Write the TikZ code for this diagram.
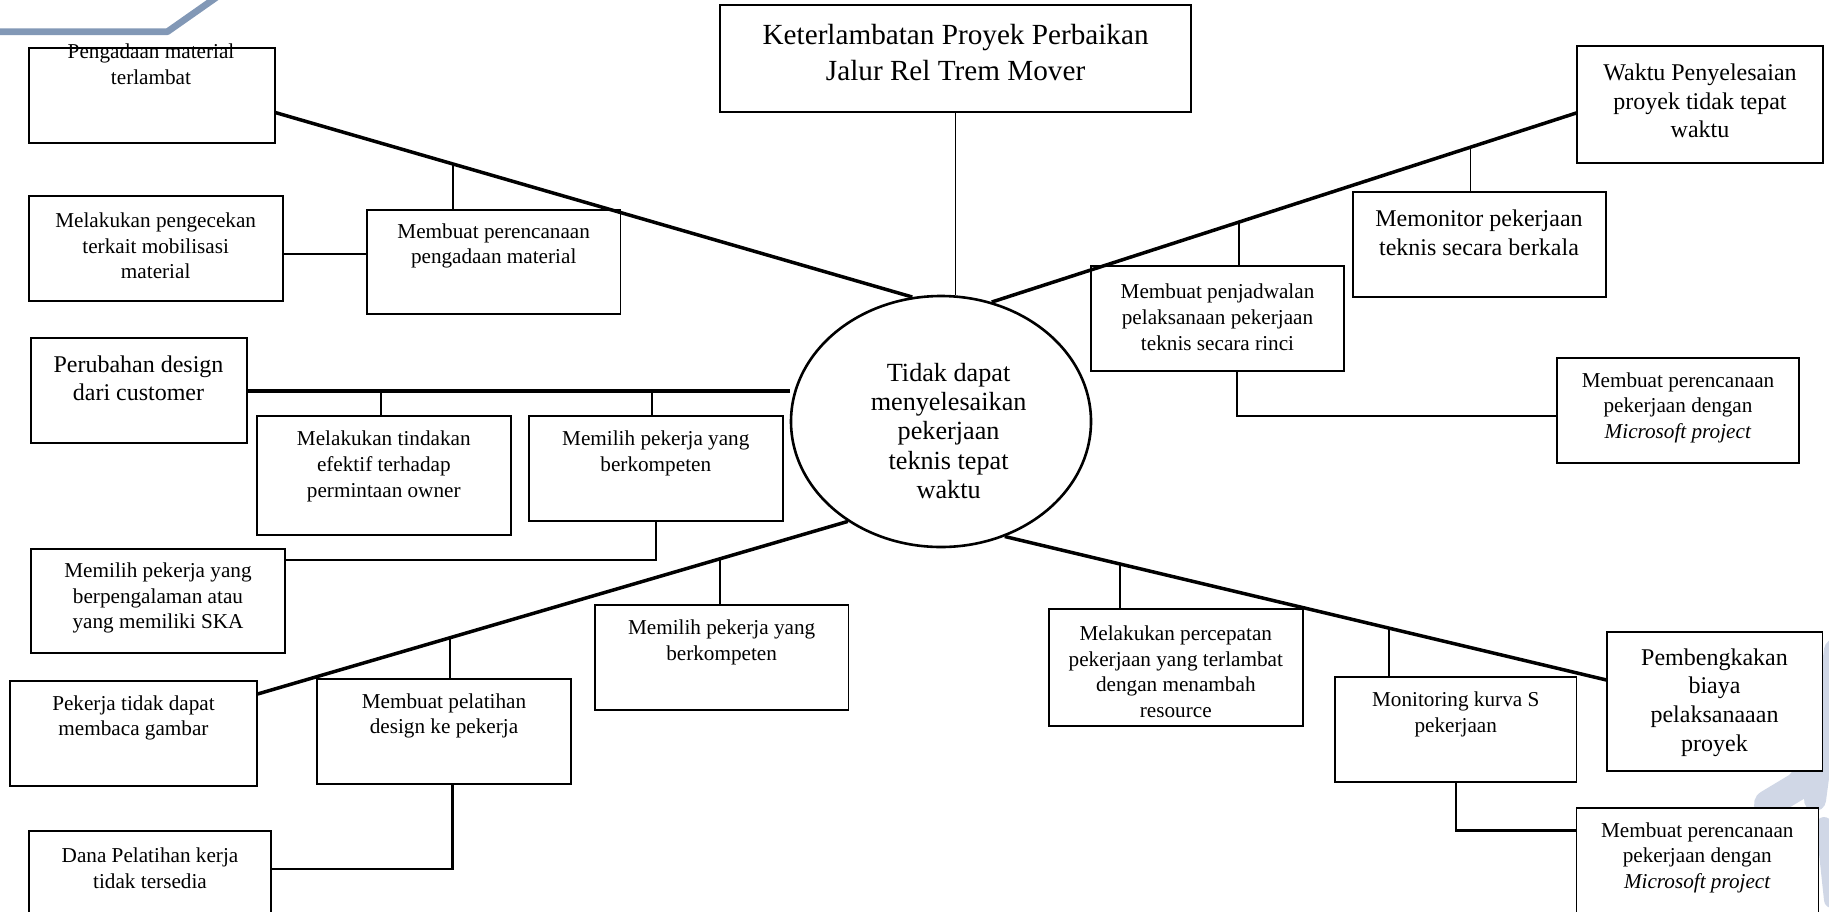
\documentclass[tikz,border=0pt]{standalone}
\usepackage{fontspec}
\setmainfont{Liberation Serif}
\usetikzlibrary{calc,fit,shapes.geometric}
\definecolor{wmdark}{HTML}{8298B6}
\definecolor{wmlight}{HTML}{D0D7E6}
\tikzset{
  box/.style={draw, fill=white, line width=0.9pt, inner sep=0pt, outer sep=0pt},
  txts/.style={align=center, inner sep=0pt, font=\fontsize{10.6}{12.8}\selectfont},
  txtm/.style={align=center, inner sep=0pt, font=\fontsize{12}{14.3}\selectfont},
  txtl/.style={align=center, inner sep=0pt, font=\fontsize{13.1}{14.6}\selectfont},
  txtxl/.style={align=center, inner sep=0pt, font=\fontsize{14.6}{18}\selectfont},
  thickln/.style={line width=1.75pt},
  thinln/.style={line width=0.85pt},
  elbowln/.style={line width=1.1pt},
  wm/.style={line cap=round, line join=round}
}
\begin{document}
\begin{tikzpicture}[x=0.5pt,y=-0.5pt]
\useasboundingbox (0,0) rectangle (1829,911);
% watermarks
\draw[wm, wmdark, line width=3.35pt, line cap=butt] (-5,31.7) -- (167.4,31.7) -- (224,-8);
\draw[wm, wmlight, line width=11pt] (1835,650) -- (1815,800);
\draw[wm, wmlight, line width=14pt] (1768,804) -- (1798,786) -- (1840,740);
\draw[wm, wmlight, line width=8pt] (1824,825) -- (1832,900);

% boxes
\node[box, fit={(29,47.7) (274.6,143.3)}] (b1) {};
\node[box, fit={(29,196) (282.6,301)}] (b2) {};
\node[box, fit={(367,209.7) (620.5,314.3)}] (b3) {};
\node[box, fit={(30.6,338.3) (247,443.3)}] (b4) {};
\node[box, fit={(256.6,416) (511,534.7)}] (b5) {};
\node[box, fit={(528.6,416) (783,521.3)}] (b6) {};
\node[box, fit={(30.6,548.7) (285.2,653.3)}] (b7) {};
\node[box, fit={(594.7,605) (848.5,710)}] (b8) {};
\node[box, fit={(10.3,680.7) (256.6,786)}] (b9) {};
\node[box, fit={(316.9,679) (571.2,784)}] (b10) {};
\node[box, fit={(29,830.7) (271,925)}] (b11) {};
\node[box, fit={(720.2,4.7) (1191,112)}] (b12) {};
\node[box, fit={(1577,46) (1823,162.7)}] (b13) {};
\node[box, fit={(1353,192.3) (1605.7,297)}] (b14) {};
\node[box, fit={(1091,266) (1344,371)}] (b15) {};
\node[box, fit={(1557,357.7) (1798.7,462.7)}] (b16) {};
\node[box, fit={(1048.7,609) (1302.8,725.7)}] (b17) {};
\node[box, fit={(1334.8,677.3) (1576.5,782)}] (b18) {};
\node[box, fit={(1606.7,632.3) (1822.4,770.7)}] (b19) {};
\node[box, fit={(1576.5,808) (1818.5,925)}] (b20) {};
\node[draw, ellipse, fill=white, line width=1.3pt, inner sep=0pt,
      minimum width=150pt, minimum height=125.5pt] (ell) at (941,421.5) {};

% top connector
\draw[thinln] (b12.south) -- (b12.south |- ell.north);

% diagonal / trunk lines
\coordinate (d1a) at ($(b1.north east)!0.676!(b1.south east)$);
\coordinate (d1b) at (ell.103);
\coordinate (d2a) at (b4.east);
\coordinate (d2b) at (b4.east -| ell.west);
\coordinate (d3a) at ($(b9.north east)!0.129!(b9.south east)$);
\coordinate (d3b) at (ell.227.2);
\coordinate (d4a) at (ell.67.1);
\coordinate (d4b) at ($(b13.north west)!0.572!(b13.south west)$);
\coordinate (d5a) at (ell.299.7);
\coordinate (d5b) at ($(b19.north west)!0.345!(b19.south west)$);
\draw[thickln] (d1a) -- (d1b);
\draw[thickln] (d2a) -- (d2b);
\draw[thickln] (d3a) -- (d3b);
\draw[thickln] (d4a) -- (d4b);
\draw[thickln] (d5a) -- (d5b);

% junctions
\coordinate (j1) at ($(d1a)!0.28!(d1b)$);
\coordinate (j2) at ($(d2a)!0.2463!(d2b)$);
\coordinate (j3) at ($(d2a)!0.7463!(d2b)$);
\coordinate (j4) at ($(d3a)!0.3274!(d3b)$);
\coordinate (j5) at ($(d3a)!0.7837!(d3b)$);
\coordinate (j6) at ($(d4a)!0.4224!(d4b)$);
\coordinate (j7) at ($(d4a)!0.818!(d4b)$);
\coordinate (j8) at ($(d5a)!0.192!(d5b)$);
\coordinate (j9) at ($(d5a)!0.6383!(d5b)$);
\draw[thinln] (j1) -- (j1 |- b3.north);
\draw[thinln] (j2) -- (j2 |- b5.north);
\draw[thinln] (j3) -- (j3 |- b6.north);
\draw[thinln] (j4) -- (j4 |- b10.north);
\draw[thinln] (j5) -- (j5 |- b8.north);
\draw[thinln] (j6) -- (j6 |- b15.north);
\draw[thinln] (j7) -- (j7 |- b14.north);
\draw[thinln] (j8) -- (j8 |- b17.north);
\draw[thinln] (j9) -- (j9 |- b18.north);

% elbow connectors
\coordinate (e1) at ($(b2.north east)!0.555!(b2.south east)$);
\draw[elbowln] (e1) -- (e1 -| b3.west);
\coordinate (e2) at ($(b7.north east)!0.108!(b7.south east)$);
\draw[elbowln] (b6.south) |- (e2);
\coordinate (e3a) at ($(b10.south west)!0.533!(b10.south east)$);
\coordinate (e3b) at ($(b11.north east)+(0,38.6)$);
\draw[elbowln] (e3a) |- (e3b);
\coordinate (e4a) at ($(b15.south west)!0.577!(b15.south east)$);
\coordinate (e4b) at ($(b16.north west)!0.557!(b16.south west)$);
\draw[elbowln] (e4a) |- (e4b);
\coordinate (e5) at ($(b20.north west)+(0,22.4)$);
\draw[elbowln] (b18.south) |- (e5);

% texts
\node[txts] (t1) at (151,64.2) {Pengadaan material\\terlambat};
\node[txts] (t2) at (155.7,245.8) {Melakukan pengecekan\\terkait mobilisasi\\material};
\node[txts] (t3) at (493.7,246) {Membuat perencanaan\\pengadaan material};
\node[txtm] (t4) at (138.5,378.3) {Perubahan design\\dari customer};
\node[txts] (t5) at (383.8,466.3) {Melakukan tindakan\\efektif terhadap\\permintaan owner};
\node[txts] (t6) at (655.8,453.5) {Memilih pekerja yang\\berkompeten};
\node[txts] (t7) at (158,598.3) {Memilih pekerja yang\\berpengalaman atau\\yang memiliki SKA};
\node[txts] (t8) at (721.6,642.5) {Memilih pekerja yang\\berkompeten};
\node[txts] (t9) at (133.5,717.8) {Pekerja tidak dapat\\membaca gambar};
\node[txts] (t10) at (444,716) {Membuat pelatihan\\design ke pekerja};
\node[txts] (t11) at (150,868) {Dana Pelatihan kerja\\tidak tersedia};
\node[txtxl] (t12) at (955.6,52.3) {Keterlambatan Proyek Perbaikan\\Jalur Rel Trem Mover};
\node[txtm] (t13) at (1700,101) {Waktu Penyelesaian\\proyek tidak tepat\\waktu};
\node[txtm] (t14) at (1479,232.5) {Memonitor pekerjaan\\teknis secara berkala};
\node[txts] (t15) at (1217.5,317.2) {Membuat penjadwalan\\pelaksanaan pekerjaan\\teknis secara rinci};
\node[txts] (t16) at (1678,407.6) {Membuat perencanaan\\pekerjaan dengan\\\textit{Microsoft project}};
\node[txts] (t17) at (1175.8,671.8) {Melakukan percepatan\\pekerjaan yang terlambat\\dengan menambah\\resource};
\node[txts] (t18) at (1455.7,714.2) {Monitoring kurva S\\pekerjaan};
\node[txtm] (t19) at (1714.5,702.5) {Pembengkakan\\biaya\\pelaksanaaan\\proyek};
\node[txts] (t20) at (1697.3,857.8) {Membuat perencanaan\\pekerjaan dengan\\\textit{Microsoft project}};
\node[txtl] (te) at (948.6,431) {Tidak dapat\\menyelesaikan\\pekerjaan\\teknis tepat\\waktu};
\end{tikzpicture}
\end{document}
